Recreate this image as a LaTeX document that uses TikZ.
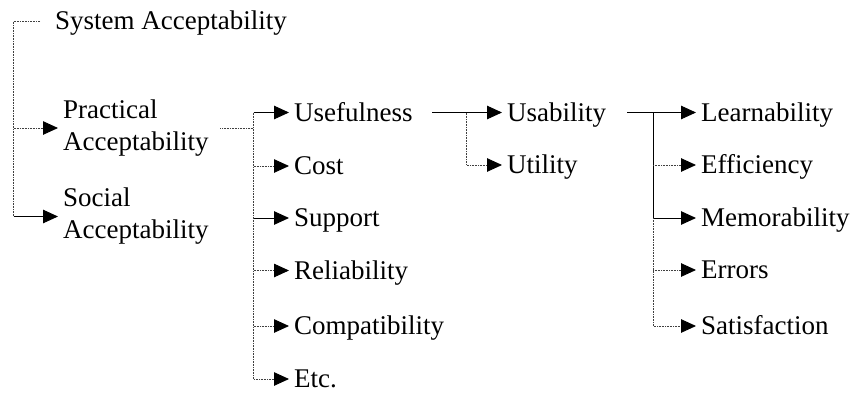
\documentclass[tikz,border=0pt]{standalone}
\usepackage{fontspec}
\setmainfont{Liberation Serif}
\usetikzlibrary{arrows.meta}
\begin{document}
\begin{tikzpicture}[x=1pt,y=-1pt,
  lbl/.style={anchor=west, inner xsep=5pt, inner ysep=0pt, text height=17.5pt, text depth=0pt,
    font=\fontsize{27}{32}\selectfont},
  lbltwo/.style={anchor=west, inner xsep=5pt, inner ysep=0pt, align=left,
    font=\fontsize{27}{32}\selectfont},
  plainln/.style={draw=black, line width=1pt},
  dotln/.style={draw=black!75, line width=0.9pt, dash pattern=on 0.8pt off 0.8pt},
  tip/.style={-{Triangle[length=15pt,width=13.5pt,black]}},
]
\useasboundingbox (0,0) rectangle (857,394);

% top level
\node[lbl] (sys) at (50,21) {System Acceptability};
\node[lbltwo] (pa) at (58,128) {Practical\\Acceptability};
\node[lbltwo] (sa) at (58,216.5) {Social\\Acceptability};

% practical acceptability
\node[lbl] (use)  at (289,112.5) {Usefulness};
\node[lbl] (cost) at (289,166)   {Cost};
\node[lbl] (sup)  at (289,218)   {Support};
\node[lbl] (rel)  at (289,270.5) {Reliability};
\node[lbl] (comp) at (289,326)   {Compatibility};
\node[lbl] (etc)  at (289,379)   {Etc.};

% usefulness
\node[lbl] (usab) at (502,112.5) {Usability};
\node[lbl] (util) at (502,165)   {Utility};

% usability
\node[lbl] (learn) at (696,112.5) {Learnability};
\node[lbl] (eff)   at (696,165)   {Efficiency};
\node[lbl] (mem)   at (696,218)   {Memorability};
\node[lbl] (err)   at (696,270)   {Errors};
\node[lbl] (sat)   at (696,326)   {Satisfaction};

% branch points
\coordinate (k1) at (13.5,216.5);
\coordinate (k2) at (253.5,112.5);
\coordinate (k3) at (466.5,112.5);
\coordinate (k4) at (653,112.5);

% system acceptability tree
\draw[dotln, shorten <=10pt] (sys.west) -| (k1);
\draw[plainln, tip] (k1) -- (sa.west);
\draw[dotln, tip] (k1 |- pa.west) -- (pa.west);

% practical acceptability tree
\draw[dotln, shorten <=6.5pt] (pa.east) -- (k2 |- pa.east);
\draw[dotln, tip] (k2) |- (etc.west);
\draw[plainln, tip] (k2) -- (use.west);
\draw[dotln, tip] (k2 |- cost.west) -- (cost.west);
\draw[plainln, tip] (k2 |- sup.west) -- (sup.west);
\draw[dotln, tip] (k2 |- rel.west) -- (rel.west);
\draw[dotln, tip] (k2 |- comp.west) -- (comp.west);

% usefulness tree
\draw[plainln, tip, shorten <=14.5pt] (use.east) -- (usab.west);
\draw[dotln, tip] (k3) |- (util.west);

% usability tree
\draw[plainln, tip, shorten <=16pt] (usab.east) -- (learn.west);
\draw[plainln] (k4) -- (k4 |- mem.west);
\draw[plainln, tip] (k4 |- mem.west) -- (mem.west);
\draw[dotln, tip] (k4 |- mem.west) |- (sat.west);
\draw[dotln, tip] (k4 |- eff.west) -- (eff.west);
\draw[dotln, tip] (k4 |- err.west) -- (err.west);
\end{tikzpicture}
\end{document}
